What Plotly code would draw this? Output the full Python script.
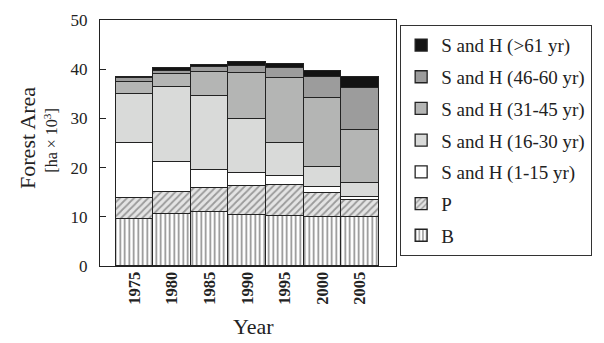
import plotly.graph_objects as go

years = ["1975", "1980", "1985", "1990", "1995", "2000", "2005"]

# Forest area by class [ha x 10^3], stacked bottom to top
b_area = [9.6, 10.6, 10.9, 10.45, 10.2, 9.95, 9.9]
p_area = [4.2, 4.5, 4.9, 5.9, 6.25, 4.95, 3.5]
sh_1_15 = [11.1, 6.1, 3.8, 2.55, 1.75, 1.2, 0.7]
sh_16_30 = [10.1, 15.1, 15.0, 11.0, 6.7, 4.05, 2.8]
sh_31_45 = [2.5, 2.7, 4.8, 9.4, 13.4, 13.95, 10.7]
sh_46_60 = [0.7, 0.7, 1.0, 1.4, 1.95, 4.4, 8.65]
sh_61 = [0.15, 0.45, 0.45, 0.7, 0.85, 1.1, 2.15]

series = [
    ("B", b_area, dict(shape="|", fgcolor="#8a8a8a", bgcolor="white", size=4.5, solidity=0.35)),
    ("P", p_area, dict(shape="/", fgcolor="#9a9a9a", bgcolor="#e4e4e4", size=5, solidity=0.35)),
    ("S and H (1-15 yr)", sh_1_15, "white"),
    ("S and H (16-30 yr)", sh_16_30, "#d9dad9"),
    ("S and H (31-45 yr)", sh_31_45, "#b4b5b4"),
    ("S and H (46-60 yr)", sh_46_60, "#9c9c9c"),
    ("S and H (>61 yr)", sh_61, "#131313"),
]

FONT = "Liberation Serif"
fig = go.Figure()
n = len(series)
for i, (name, vals, style) in enumerate(series):
    marker = dict(line=dict(color="#222222", width=1.3))
    if isinstance(style, dict):
        marker["color"] = style["bgcolor"]
        marker["pattern"] = dict(fillmode="replace", **style)
    else:
        marker["color"] = style
    fig.add_trace(go.Bar(x=years, y=vals, name=name, marker=marker,
                         legendgroup=f"g{i}", legendrank=n - i))

fig.update_layout(
    width=604, height=343,
    margin=dict(l=100, r=192, t=20, b=77),
    barmode="stack", bargap=0,
    plot_bgcolor="white", paper_bgcolor="white",
    font=dict(family=FONT, color="#222222", size=17),
    showlegend=True,
    legend=dict(
        x=1.013, y=0.98, xanchor="left", yanchor="top",
        traceorder="grouped", tracegroupgap=4,
        bordercolor="#333333", borderwidth=1.3,
        font=dict(family=FONT, size=19, color="#222222"),
    ),
    xaxis=dict(
        type="category", range=[-0.92, 6.96],
        showline=True, linecolor="#222222", linewidth=1.3, mirror=True,
        ticks="", tickangle=-90, ticklabelstandoff=-2,
        tickfont=dict(family=FONT, size=16.5, color="#222222", weight="bold"),
    ),
    yaxis=dict(
        range=[0, 50], tickvals=[0, 10, 20, 30, 40, 50],
        showline=True, linecolor="#222222", linewidth=1.3, mirror=True,
        ticks="inside", ticklen=6, tickwidth=1.2, tickcolor="#222222",
        showgrid=False, zeroline=False, ticklabelstandoff=8,
        tickfont=dict(family=FONT, size=17, color="#222222"),
    ),
    annotations=[
        dict(text="Forest Area", xref="paper", yref="paper",
             x=(23 - 100) / 312, y=(266 - 138) / 246, textangle=-90,
             xanchor="center", yanchor="middle", showarrow=False,
             font=dict(family=FONT, size=22, color="#222222")),
        dict(text="[ha \u00d7 10<sup>3</sup>]", xref="paper", yref="paper",
             x=(48 - 100) / 312, y=(266 - 141) / 246, textangle=-90,
             xanchor="center", yanchor="middle", showarrow=False,
             font=dict(family=FONT, size=16, color="#222222")),
        dict(text="Year", xref="paper", yref="paper",
             x=(262 - 100) / 312, y=(266 - 326) / 246,
             xanchor="center", yanchor="middle", showarrow=False,
             font=dict(family=FONT, size=22, color="#222222")),
    ],
)

fig.write_html("out.html")
